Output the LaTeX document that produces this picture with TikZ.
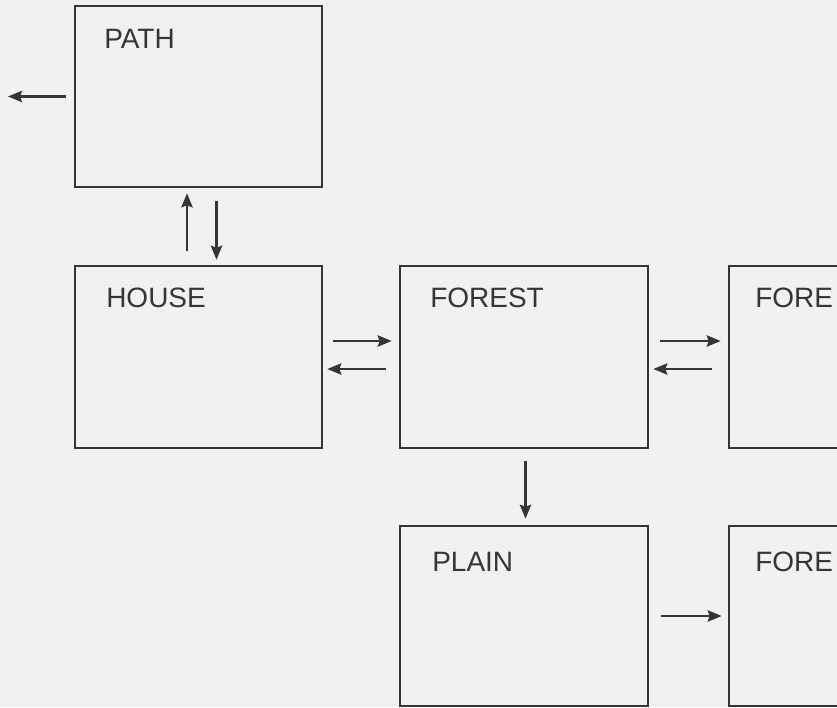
\documentclass[tikz,border=0pt]{standalone}
\usepackage{fontspec}
\setmainfont{Liberation Sans}
\usetikzlibrary{arrows.meta,calc}
\definecolor{ink}{HTML}{353535}
\definecolor{paper}{HTML}{F1F1F1}
\tikzset{
  box/.style={draw=ink, line width=2pt, rectangle, inner sep=0pt},
  lbl/.style={inner sep=0pt, anchor=base west, text=ink, font=\fontsize{21}{24}\selectfont},
  arr/.style={draw=ink, line width=1.6pt, -{Stealth[length=10.5pt,width=8.5pt,inset=1.5pt]}}
}
\begin{document}
\begin{tikzpicture}[x=0.75pt,y=-0.75pt]
\fill[paper] (0,0) rectangle (837,707);
\useasboundingbox (0,0) rectangle (837,707);
\clip (0,0) rectangle (837,707);
% boxes
\node[box, minimum width=247*0.75pt, minimum height=181*0.75pt] (PATH) at (198.5,96.5) {};
\node[box, minimum width=247*0.75pt, minimum height=182*0.75pt] (HOUSE) at (198.5,357) {};
\node[box, minimum width=248*0.75pt, minimum height=182*0.75pt] (FOREST) at (524,357) {};
\node[box, minimum width=248*0.75pt, minimum height=182*0.75pt] (FORE1) at (853,357) {};
\node[box, minimum width=248*0.75pt, minimum height=180*0.75pt] (PLAIN) at (524,616) {};
\node[box, minimum width=248*0.75pt, minimum height=180*0.75pt] (FORE2) at (853,616) {};
% labels
\node[lbl] (tPATH) at (104,48) {PATH};
\node[lbl] (tHOUSE) at (106,307) {HOUSE};
\node[lbl] (tFOREST) at (430,307) {FOREST};
\node[lbl] (tFORE1) at (755,307) {FORE};
\node[lbl] (tPLAIN) at (432,571) {PLAIN};
\node[lbl] (tFORE2) at (755,571) {FORE};
% connectors
\coordinate (out) at (8,96.5);
\draw[arr] ([xshift=-8*0.75pt]PATH.west) -- (out);
\draw[arr] ([shift={(-11.5,-14)}]HOUSE.north) -- ([shift={(-11.5,5)}]PATH.south);
\draw[arr] ([shift={(18,13)}]PATH.south) -- ([shift={(18,-5)}]HOUSE.north);
\draw[arr] ([shift={(10,-16)}]HOUSE.east) -- ([shift={(-7,-16)}]FOREST.west);
\draw[arr] ([shift={(-13,12)}]FOREST.west) -- ([shift={(4,12)}]HOUSE.east);
\draw[arr] ([shift={(11,-16)}]FOREST.east) -- ([shift={(-7,-16)}]FORE1.west);
\draw[arr] ([shift={(-16,12)}]FORE1.west) -- ([shift={(4,12)}]FOREST.east);
\draw[arr] ([shift={(1.5,12)}]FOREST.south) -- ([shift={(1.5,-6)}]PLAIN.north);
\draw[arr] ([xshift=12*0.75pt]PLAIN.east) -- ([xshift=-6*0.75pt]FORE2.west);
\end{tikzpicture}
\end{document}
